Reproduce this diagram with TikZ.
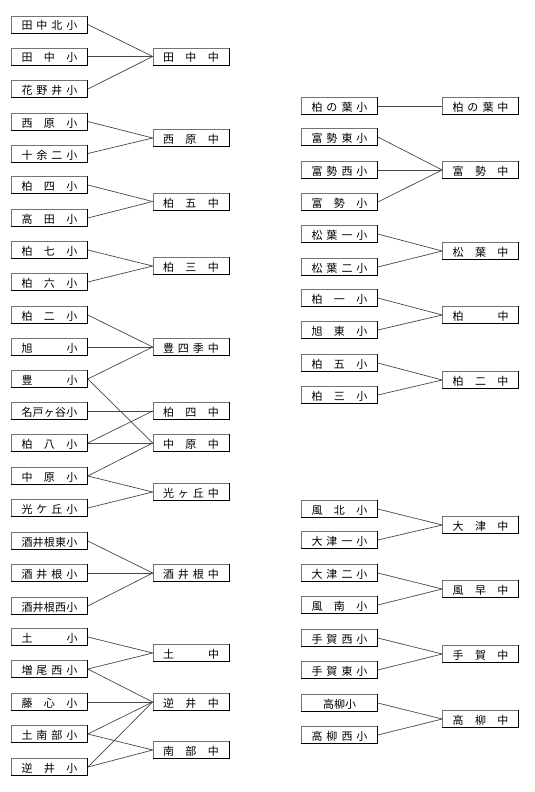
\documentclass[tikz,border=0pt]{standalone}
\usepackage{fontspec}
\setmainfont{Noto Sans CJK JP}
\newcommand\sprd[1]{\makebox[56pt][s]{#1}}
\newcommand\bx[3]{\node[schbox] (#1) at (#2) {#3};
  \draw[boxedge] (#1.north east) -- (#1.south east) -- (#1.south west);}
\tikzset{
  schbox/.style={draw=black!55, line width=0.6pt, minimum width=76pt, minimum height=17pt,
    inner sep=0pt, font=\fontsize{11}{11}\selectfont, text height=11pt, text depth=0pt},
  boxedge/.style={black, line width=1pt},
  link/.style={black!72, line width=0.7pt}
}
\begin{document}
\begin{tikzpicture}[x=1pt,y=-1pt]
\useasboundingbox[fill=white] (0,0) rectangle (535,792);
% left column
\bx{l1}{49.5,24.5}{\sprd{田\hfill 中\hfill 北\hfill 小}}
\bx{l2}{49.5,56.5}{\sprd{田\hfill 中\hfill 小}}
\bx{l3}{49.5,89}{\sprd{花\hfill 野\hfill 井\hfill 小}}
\bx{l4}{49.5,121.5}{\sprd{西\hfill 原\hfill 小}}
\bx{l5}{49.5,153.5}{\sprd{十\hfill 余\hfill 二\hfill 小}}
\bx{l6}{49.5,185}{\sprd{柏\hfill 四\hfill 小}}
\bx{l7}{49.5,218}{\sprd{高\hfill 田\hfill 小}}
\bx{l8}{49.5,250}{\sprd{柏\hfill 七\hfill 小}}
\bx{l9}{49.5,282}{\sprd{柏\hfill 六\hfill 小}}
\bx{l10}{49.5,315}{\sprd{柏\hfill 二\hfill 小}}
\bx{l11}{49.5,347}{\sprd{旭\hfill 小}}
\bx{l12}{49.5,379}{\sprd{豊\hfill 小}}
\bx{l13}{49.5,411}{\sprd{名\hfill 戸\hfill ヶ\hfill 谷\hfill 小}}
\bx{l14}{49.5,443}{\sprd{柏\hfill 八\hfill 小}}
\bx{l15}{49.5,476}{\sprd{中\hfill 原\hfill 小}}
\bx{l16}{49.5,508}{\sprd{光\hfill ケ\hfill 丘\hfill 小}}
\bx{l17}{49.5,541}{\sprd{酒\hfill 井\hfill 根\hfill 東\hfill 小}}
\bx{l18}{49.5,573}{\sprd{酒\hfill 井\hfill 根\hfill 小}}
\bx{l19}{49.5,606}{\sprd{酒\hfill 井\hfill 根\hfill 西\hfill 小}}
\bx{l20}{49.5,637}{\sprd{土\hfill 小}}
\bx{l21}{49.5,669}{\sprd{増\hfill 尾\hfill 西\hfill 小}}
\bx{l22}{49.5,702}{\sprd{藤\hfill 心\hfill 小}}
\bx{l23}{49.5,734}{\sprd{土\hfill 南\hfill 部\hfill 小}}
\bx{l24}{49.5,767}{\sprd{逆\hfill 井\hfill 小}}
% left middle schools
\bx{m1}{191,56.5}{\sprd{田\hfill 中\hfill 中}}
\bx{m2}{191,138}{\sprd{西\hfill 原\hfill 中}}
\bx{m3}{191,201.5}{\sprd{柏\hfill 五\hfill 中}}
\bx{m4}{191,266}{\sprd{柏\hfill 三\hfill 中}}
\bx{m5}{191,347}{\sprd{豊\hfill 四\hfill 季\hfill 中}}
\bx{m6}{191,411}{\sprd{柏\hfill 四\hfill 中}}
\bx{m7}{191,443}{\sprd{中\hfill 原\hfill 中}}
\bx{m8}{191,492}{\sprd{光\hfill ヶ\hfill 丘\hfill 中}}
\bx{m9}{191,573}{\sprd{酒\hfill 井\hfill 根\hfill 中}}
\bx{m10}{191,653}{\sprd{土\hfill 中}}
\bx{m11}{191,702}{\sprd{逆\hfill 井\hfill 中}}
\bx{m12}{191,750}{\sprd{南\hfill 部\hfill 中}}
% right column
\bx{r1}{339.5,106}{\sprd{柏\hfill の\hfill 葉\hfill 小}}
\bx{r2}{339.5,137}{\sprd{富\hfill 勢\hfill 東\hfill 小}}
\bx{r3}{339.5,170}{\sprd{富\hfill 勢\hfill 西\hfill 小}}
\bx{r4}{339.5,202}{\sprd{富\hfill 勢\hfill 小}}
\bx{r5}{339.5,234}{\sprd{松\hfill 葉\hfill 一\hfill 小}}
\bx{r6}{339.5,267}{\sprd{松\hfill 葉\hfill 二\hfill 小}}
\bx{r7}{339.5,298}{\sprd{柏\hfill 一\hfill 小}}
\bx{r8}{339.5,330}{\sprd{旭\hfill 東\hfill 小}}
\bx{r9}{339.5,363}{\sprd{柏\hfill 五\hfill 小}}
\bx{r10}{339.5,395}{\sprd{柏\hfill 三\hfill 小}}
\bx{r11}{339.5,509}{\sprd{風\hfill 北\hfill 小}}
\bx{r12}{339.5,540}{\sprd{大\hfill 津\hfill 一\hfill 小}}
\bx{r13}{339.5,573}{\sprd{大\hfill 津\hfill 二\hfill 小}}
\bx{r14}{339.5,605}{\sprd{風\hfill 南\hfill 小}}
\bx{r15}{339.5,638}{\sprd{手\hfill 賀\hfill 西\hfill 小}}
\bx{r16}{339.5,670}{\sprd{手\hfill 賀\hfill 東\hfill 小}}
\bx{r17}{339.5,703}{高柳小}
\bx{r18}{339.5,735}{\sprd{高\hfill 柳\hfill 西\hfill 小}}
% right middle schools
\bx{n1}{480.5,106}{\sprd{柏\hfill の\hfill 葉\hfill 中}}
\bx{n2}{480.5,170}{\sprd{富\hfill 勢\hfill 中}}
\bx{n3}{480.5,251}{\sprd{松\hfill 葉\hfill 中}}
\bx{n4}{480.5,315}{\sprd{柏\hfill 中}}
\bx{n5}{480.5,380}{\sprd{柏\hfill 二\hfill 中}}
\bx{n6}{480.5,525}{\sprd{大\hfill 津\hfill 中}}
\bx{n7}{480.5,589}{\sprd{風\hfill 早\hfill 中}}
\bx{n8}{480.5,654}{\sprd{手\hfill 賀\hfill 中}}
\bx{n9}{480.5,719}{\sprd{高\hfill 柳\hfill 中}}
% links left
\foreach \a/\b in {l1/m1,l2/m1,l3/m1,l4/m2,l5/m2,l6/m3,l7/m3,l8/m4,l9/m4,
  l10/m5,l11/m5,l12/m5,l12/m7,l13/m6,l14/m6,l14/m7,l15/m7,l15/m8,l16/m8,
  l17/m9,l18/m9,l19/m9,l20/m10,l21/m10,l21/m11,l22/m11,l23/m11,l23/m12,l24/m11,l24/m12}
  \draw[link] (\a.east) -- (\b.west);
% links right
\foreach \a/\b in {r1/n1,r2/n2,r3/n2,r4/n2,r5/n3,r6/n3,r7/n4,r8/n4,r9/n5,r10/n5,
  r11/n6,r12/n6,r13/n7,r14/n7,r15/n8,r16/n8,r17/n9,r18/n9}
  \draw[link] (\a.east) -- (\b.west);
\end{tikzpicture}
\end{document}
